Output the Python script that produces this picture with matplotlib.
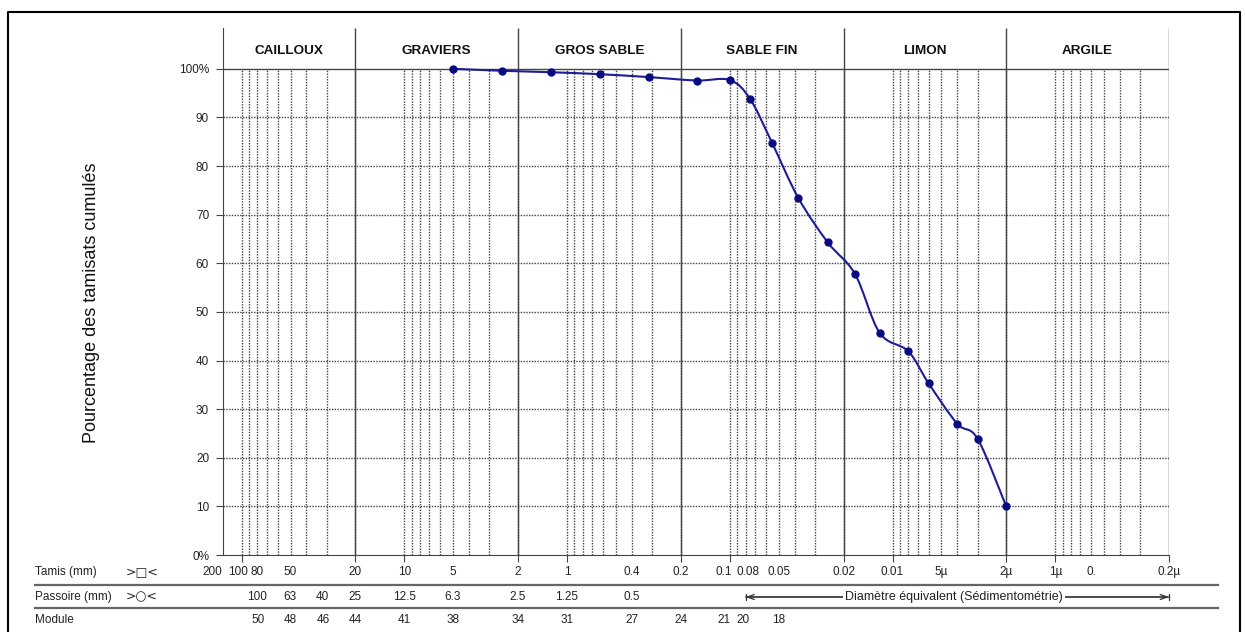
import matplotlib
matplotlib.use('Agg')
import matplotlib.pyplot as plt
import numpy as np
from matplotlib.path import Path
from matplotlib.patches import PathPatch
from matplotlib.lines import Line2D

# courbe granulometrique : diametre (mm) / tamisat cumule (%)
diametres = [5, 2.5, 1.25, 0.63, 0.315, 0.16, 0.1, 0.075, 0.055, 0.038, 0.025,
             0.017, 0.012, 0.008, 0.006, 0.004, 0.003, 0.002]
tamisats = [100, 99.6, 99.3, 98.9, 98.3, 97.6, 97.7, 93.8, 84.8, 73.5, 64.3,
            57.8, 45.7, 41.9, 35.3, 27.0, 23.9, 10.0]

classes = ['CAILLOUX', 'GRAVIERS', 'GROS SABLE', 'SABLE FIN', 'LIMON', 'ARGILE']
limites = [130, 20, 2, 0.2, 0.02, 0.002, 0.0002]

tamis_vals = [100, 80, 50, 20, 10, 5, 2, 1, 0.4, 0.2, 0.1, 0.08, 0.05, 0.02,
              0.01, 0.005, 0.002, 0.001, 0.0006, 0.0002]
tamis_labels = ['100', '80', '50', '20', '10', '5', '2', '1', '0.4', '0.2', '0.1',
                '0.08', '0.05', '0.02', '0.01', '5µ', '2µ', '1µ', '0.', '0.2µ']
passoire_vals = [100, 63, 40, 25, 12.5, 6.3, 2.5, 1.25, 0.5]
passoire_labels = ['100', '63', '40', '25', '12.5', '6.3', '2.5', '1.25', '0.5']
modules = [50, 48, 46, 44, 41, 38, 34, 31, 27, 24, 21, 20, 18]
graduations = [100, 20, 10, 2, 1, 0.2, 0.1, 0.02, 0.01, 0.002, 0.001, 0.0002]
y_ticks = [0, 10, 20, 30, 40, 50, 60, 70, 80, 90, 100]
y_labels = ['0%', '10', '20', '30', '40', '50', '60', '70', '80', '90', '100%']

# petits decalages (pixels) des etiquettes trop serrees
decal_tamis = {'100': -4, '0.1': -6, '0.08': 2}
decal_module = {21: -6, 20: -3}

W, H = 1245, 632
navy = '#1c1c96'
grille = '#444444'
txt = '#222222'
fs = 8.5
plt.rcParams['font.family'] = ['Liberation Sans', 'DejaVu Sans']

fig = plt.figure(figsize=(W / 100, H / 100), dpi=100)
ax = fig.add_axes([223 / W, 1 - 555 / H, (1169 - 223) / W, (555 - 28) / H])
ax.set_xscale('log')
ax.set_xlim(limites[0], limites[-1])
ytop = 108.4
ax.set_ylim(0, ytop)

# grille
mineurs = [k * 10.0 ** n for n in range(-4, 3) for k in range(1, 10)
           if limites[-1] < k * 10.0 ** n < limites[0]]
ax.vlines(mineurs, 0, 100, colors=grille, linestyles=(0, (1, 1)), lw=1.0)
ax.hlines(y_ticks[1:-1], limites[0], limites[-1], colors=grille, linestyles=(0, (1, 1)), lw=1.0)
ax.hlines(100, limites[0], limites[-1], colors='#444444', lw=1)
ax.vlines(limites[1:], 0, ytop, colors='#444444', lw=1)

for a, b, nom in zip(limites[:-1], limites[1:], classes):
    ax.text(np.sqrt(a * b), 103.7, nom, ha='center', va='center',
            fontsize=9.7, fontweight='bold', color='#111111')

# courbe lissee (bezier type catmull-rom)
u = np.log10(diametres)
v = np.array(tamisats, dtype=float)
pts = np.column_stack([u, v])
verts = [pts[0]]
codes = [Path.MOVETO]
n = len(pts)
for i in range(n - 1):
    p0 = pts[max(i - 1, 0)]
    p1 = pts[i]
    p2 = pts[i + 1]
    p3 = pts[min(i + 2, n - 1)]
    verts += [p1 + (p2 - p0) / 6, p2 - (p3 - p1) / 6, p2]
    codes += [Path.CURVE4] * 3
verts = np.array(verts)
verts[:, 0] = 10 ** verts[:, 0]
ax.add_patch(PathPatch(Path(verts, codes), facecolor='none', edgecolor=navy, lw=1.5, zorder=4))
ax.plot(diametres, tamisats, 'o', color='#0a0a80', ms=5, zorder=5)

# axes
for s in ['top', 'right']:
    ax.spines[s].set_visible(False)
for s in ['left', 'bottom']:
    ax.spines[s].set_color('#444444')
ax.xaxis.set_minor_locator(matplotlib.ticker.NullLocator())
ax.set_xticks(graduations, labels=[''] * len(graduations))
ax.tick_params(axis='x', direction='out', length=5, color='#444444')
ax.set_yticks(y_ticks, labels=y_labels)
ax.tick_params(axis='y', direction='out', length=5, color='#444444', pad=5,
               labelsize=8.5, labelcolor=txt)

tr = ax.get_xaxis_transform()
y_tamis, y_pass, y_mod = -0.0323, -0.0797, -0.1233


def etiquette(x, y, s, dx=0, ha='center'):
    ax.annotate(s, xy=(x, y), xycoords=tr, xytext=(dx, 0), textcoords='offset pixels',
                ha=ha, va='center', fontsize=fs, color=txt, annotation_clip=False)


for val, lab in zip(tamis_vals, tamis_labels):
    etiquette(val, y_tamis, lab, decal_tamis.get(lab, 0))
etiquette(limites[0], y_tamis, '200', -1, ha='right')
for val, lab in zip(passoire_vals, passoire_labels):
    etiquette(val / 1.25, y_pass, lab)
for m in modules:
    etiquette(10 ** ((m - 1) / 10) / 1000, y_mod, str(m), decal_module.get(m, 0))

# fleche sedimentometrie
ax.annotate('', xy=(limites[-1], y_pass), xytext=(0.08, y_pass), xycoords=tr, textcoords=tr,
            arrowprops=dict(arrowstyle='<->,head_length=0.5,head_width=0.18', color='#333333',
                            lw=0.9, shrinkA=0, shrinkB=0), annotation_clip=False)
ax.annotate('', xy=(limites[-1], y_pass), xytext=(0.08, y_pass), xycoords=tr, textcoords=tr,
            arrowprops=dict(arrowstyle='|-|,widthA=0.25,widthB=0.25', color='#333333',
                            lw=0.9, shrinkA=0, shrinkB=0), annotation_clip=False)
ax.text(0.0042, y_pass, 'Diamètre équivalent (Sédimentométrie)', transform=tr, ha='center',
        va='center', fontsize=9, color=txt,
        bbox=dict(facecolor='white', edgecolor='none', pad=1.5))

# lignes de tableau et libelles
for yy in [585, 608]:
    fig.add_artist(Line2D([35 / W, 1218 / W], [1 - yy / H] * 2, color='#666666', lw=1.6))
for yy, lab, sym in [(572, 'Tamis (mm)', '>□<'), (597, 'Passoire (mm)', '>○<'), (620, 'Module', '')]:
    fig.text(35 / W, 1 - yy / H, lab, ha='left', va='center', fontsize=fs, color=txt)
    if sym:
        fig.text(142 / W, 1 - yy / H, sym, ha='center', va='center', fontsize=9,
                 family=['DejaVu Sans'], color=txt)

fig.text(92 / W, 1 - 303 / H, 'Pourcentage des tamisats cumulés', rotation=90, ha='center',
         va='center', fontsize=13, color='#111111')

# cadre
fig.add_artist(Line2D([8 / W, 8 / W, 1240 / W, 1240 / W], [0, 1 - 12 / H, 1 - 12 / H, 0],
                      color='black', lw=1.5))

fig.savefig('out.png', dpi=100)
